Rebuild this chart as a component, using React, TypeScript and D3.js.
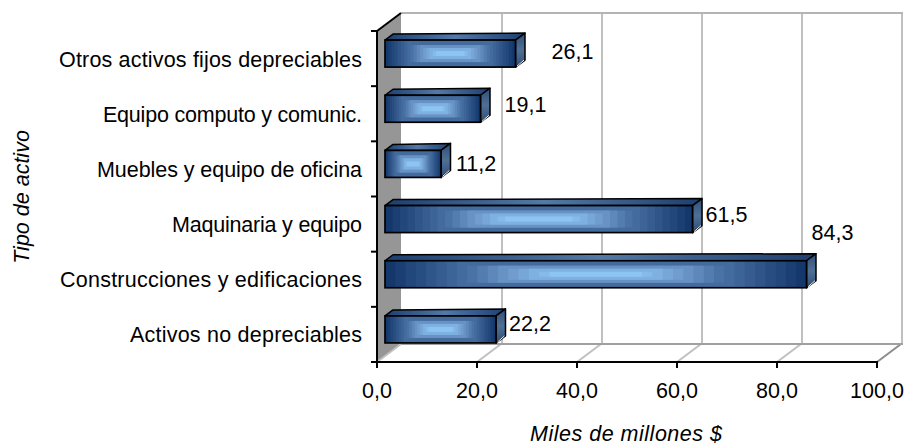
import React from "react";
import * as d3 from "d3";

const categories = [
  "Otros activos fijos depreciables",
  "Equipo computo y comunic.",
  "Muebles y equipo de oficina",
  "Maquinaria y equipo",
  "Construcciones y edificaciones",
  "Activos no depreciables",
];
const categoryLabelWidths = [303, 259, 265, 190, 302, 232];
const values = [26.1, 19.1, 11.2, 61.5, 84.3, 22.2];
const valueLabels = ["26,1", "19,1", "11,2", "61,5", "84,3", "22,2"];
const xTicks = [0, 20, 40, 60, 80, 100];
const xTickLabels = ["0,0", "20,0", "40,0", "60,0", "80,0", "100,0"];
const labelDx = [28, 16, 7, 5, -3, 5];
const labelDy = [4, 2, 6, 2, -35, 1];

const W = 906, H = 446;
const DX = 24, DY = -18;
const BAR_DX = 8, BAR_DY = -6;
const SIDE_DX = 9.5, SIDE_DY = -7;
const FONT = "'Liberation Sans', Arial, sans-serif";
const FS = 21.5;
const STEPS = 16;

const x = d3.scaleLinear().domain([0, 100]).range([377, 877]);
const y = d3.scaleBand<string>().domain(categories).range([31, 362]);
const shade = d3.scaleLinear<string>()
  .domain([0, 0.5, 0.75, 1])
  .range(["#14386c", "#4a72a5", "#709dcd", "#8cc4f4"])
  .interpolate(d3.interpolateRgb);
const vInset = (t: number) => (t < 0.5 ? 0 : t < 0.75 ? 5 : t < 0.93 ? 8 : 11);

function Bar({ cat, value, label, ldx, ldy }: any) {
  const x0 = x(0) + BAR_DX;
  const x1 = x(value) + BAR_DX;
  const band = y(cat)!;
  const h = 27;
  const y0 = band + y.bandwidth() / 2 - 5 - h / 2;
  const y1 = y0 + h;
  const w = x1 - x0;
  const levels = d3.range(STEPS + 1).map((i) => i / STEPS);
  return (
    <g>
      <polygon points={`${x0},${y0} ${x0 + BAR_DX},${y0 + BAR_DY} ${x1 + SIDE_DX},${y0 + SIDE_DY} ${x1},${y0}`} fill="url(#top)" stroke="#000" strokeWidth={1.5} strokeLinejoin="round" />
      <polygon points={`${x1},${y0} ${x1 + SIDE_DX},${y0 + SIDE_DY} ${x1 + SIDE_DX},${y1 + SIDE_DY} ${x1},${y1}`} fill="url(#side)" stroke="#000" strokeWidth={1.5} strokeLinejoin="round" />
      <line x1={x1 + 1.5} x2={x1 + SIDE_DX - 1} y1={y1 - 1} y2={y1 + SIDE_DY} stroke="#fff" strokeWidth={1} />
      {levels.map((t, i) => {
        const ix = (t * 0.78 * w) / 2;
        const iy = vInset(t);
        return <rect key={i} x={x0 + ix} y={y0 + iy} width={w - 2 * ix} height={h - 2 * iy} fill={shade(t)} />;
      })}
      <rect x={x0} y={y0} width={w} height={h} fill="none" stroke="#000" strokeWidth={1.7} />
      <text x={x1 + BAR_DX + ldx} y={y0 + h / 2 + BAR_DY + 7 + ldy} fontSize={FS} fontFamily={FONT} fill="#000">{label}</text>
    </g>
  );
}

export default function App() {
  const yTop = y.range()[0], yBot = y.range()[1];
  const gy = d3.range(categories.length + 1).map((i) => yTop + i * y.step());
  return (
    <svg width={W} height={H} style={{ position: "absolute", left: 0, top: 0, background: "#fff" }}>
      <defs>
        <linearGradient id="top" x1="0" x2="1" y1="0" y2="0">
          <stop offset="0" stopColor="#1d3f70" />
          <stop offset="0.5" stopColor="#5279a8" />
          <stop offset="1" stopColor="#1d3f70" />
        </linearGradient>
        <linearGradient id="side" x1="0" x2="0" y1="0" y2="1">
          <stop offset="0" stopColor="#2f4f7a" />
          <stop offset="0.5" stopColor="#4f6f94" />
          <stop offset="1" stopColor="#2f4f7a" />
        </linearGradient>
      </defs>
      <polygon points={`${x(0)},${yTop} ${x(0) + DX},${yTop + DY} ${x(0) + DX},${yBot + DY} ${x(0)},${yBot}`} fill="#969696" />
      {xTicks.map((t) => (
        <g key={t}>
          {t > 0 && <line x1={x(t) + DX + 1} x2={x(t) + DX + 1} y1={yTop + DY} y2={yBot + DY} stroke="#c0c0c0" strokeWidth={2} />}
          <line x1={x(t)} x2={x(t) + DX} y1={yBot} y2={yBot + DY} stroke={t === 100 ? "#8c8c8c" : "#c0c0c0"} strokeWidth={2} />
        </g>
      ))}
      <line x1={x(0) + DX} x2={x(100) + DX + 2} y1={yTop + DY} y2={yTop + DY} stroke="#b4b4b4" strokeWidth={2} />
      <line x1={x(0) + DX} x2={x(100) + DX + 2} y1={yBot + DY} y2={yBot + DY} stroke="#a0a0a0" strokeWidth={2} />
      {categories.map((c, i) => (
        <Bar key={c} cat={c} value={values[i]} label={valueLabels[i]} ldx={labelDx[i]} ldy={labelDy[i]} />
      ))}
      <line x1={x(0)} x2={x(0) + DX} y1={yTop} y2={yTop + DY} stroke="#000" strokeWidth={2} />
      <line x1={x(0)} x2={x(0)} y1={yTop} y2={yBot + 6} stroke="#000" strokeWidth={2} />
      <line x1={x(0) - 1} x2={x(100) + 1} y1={yBot} y2={yBot} stroke="#000" strokeWidth={2} />
      {gy.map((g) => (
        <line key={g} x1={x(0) - 6} x2={x(0)} y1={g} y2={g} stroke="#000" strokeWidth={2} />
      ))}
      {xTicks.map((t, i) => (
        <g key={t}>
          <line x1={x(t)} x2={x(t)} y1={yBot} y2={yBot + 6} stroke="#000" strokeWidth={2} />
          <text x={x(t)} y={398} textAnchor="middle" fontSize={FS} fontFamily={FONT}>{xTickLabels[i]}</text>
        </g>
      ))}
      {categories.map((c, i) => (
        <text key={c} x={362 - categoryLabelWidths[i]} y={y(c)! + y.bandwidth() / 2 + 8} textLength={categoryLabelWidths[i]} lengthAdjust="spacing" fontSize={FS} fontFamily={FONT}>{c}</text>
      ))}
      <text x={530} y={441} textLength={192} lengthAdjust="spacing" fontSize={FS} fontStyle="italic" fontFamily={FONT}>Miles de millones $</text>
      <text transform="translate(29,197) rotate(-90)" textAnchor="middle" fontSize={FS} fontStyle="italic" fontFamily={FONT}>Tipo de activo</text>
    </svg>
  );
}
